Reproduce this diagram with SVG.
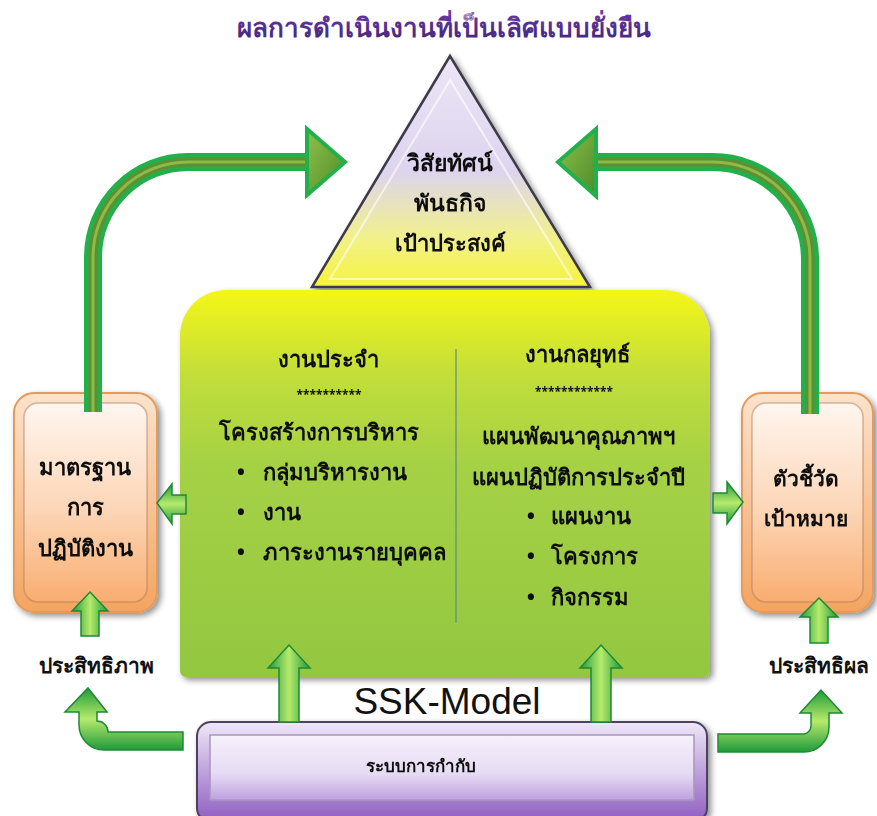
<svg xmlns="http://www.w3.org/2000/svg" width="877" height="816" viewBox="0 0 877 816">
<defs>
<style>
.th{font-family:"Noto Sans","DejaVu Sans","Liberation Sans",sans-serif;fill:#111;text-anchor:middle;font-weight:bold}
.st{text-anchor:start}
.big-shaft-o{fill:none;stroke:#22b04a;stroke-width:18}
.big-shaft-m{fill:none;stroke:#5f8f34;stroke-width:9}
.big-shaft-i{fill:none;stroke:#8dbb45;stroke-width:3}
</style>
<linearGradient id="gTri" x1="0" y1="0" x2="0" y2="1">
<stop offset="0" stop-color="#ece6f6"/><stop offset="0.5" stop-color="#ddd4ee"/><stop offset="0.78" stop-color="#f1f08e"/><stop offset="1" stop-color="#f6f53a"/>
</linearGradient>
<linearGradient id="gGreen" x1="0" y1="0" x2="0" y2="1">
<stop offset="0" stop-color="#f4f618"/><stop offset="0.22" stop-color="#c2de3a"/><stop offset="0.45" stop-color="#a5d145"/><stop offset="1" stop-color="#93c741"/>
</linearGradient>
<linearGradient id="gOrO" x1="0" y1="0" x2="0" y2="1">
<stop offset="0" stop-color="#fbe3cd"/><stop offset="1" stop-color="#f4a460"/>
</linearGradient>
<linearGradient id="gOrI" x1="0" y1="0" x2="0" y2="1">
<stop offset="0" stop-color="#fff6ef"/><stop offset="0.55" stop-color="#fcd5b5"/><stop offset="1" stop-color="#f9ad70"/>
</linearGradient>
<linearGradient id="gPuO" x1="0" y1="0" x2="0" y2="1">
<stop offset="0" stop-color="#efe7f8"/><stop offset="1" stop-color="#8e5cc0"/>
</linearGradient>
<linearGradient id="gPuI" x1="0" y1="0" x2="0" y2="1">
<stop offset="0" stop-color="#f6f0fc"/><stop offset="0.6" stop-color="#e6dbf3"/><stop offset="1" stop-color="#bea0df"/>
</linearGradient>
<linearGradient id="gArrH" x1="0" y1="0" x2="0" y2="1">
<stop offset="0" stop-color="#1f9a3a"/><stop offset="0.5" stop-color="#b6ea6c"/><stop offset="1" stop-color="#1f9a3a"/>
</linearGradient>
<linearGradient id="gArrV" x1="0" y1="0" x2="1" y2="0">
<stop offset="0" stop-color="#1f9a3a"/><stop offset="0.5" stop-color="#b6ea6c"/><stop offset="1" stop-color="#1f9a3a"/>
</linearGradient>
<linearGradient id="gHead" x1="0" y1="0" x2="1" y2="1">
<stop offset="0" stop-color="#8fc24a"/><stop offset="1" stop-color="#4e8a2a"/>
</linearGradient>
<linearGradient id="gTitle" x1="0" y1="0" x2="0" y2="1">
<stop offset="0" stop-color="#6a3aa8"/><stop offset="1" stop-color="#3e2375"/>
</linearGradient>
<filter id="sh" x="-10%" y="-10%" width="130%" height="130%">
<feGaussianBlur in="SourceAlpha" stdDeviation="3"/><feOffset dx="3" dy="3"/>
<feComponentTransfer><feFuncA type="linear" slope="0.45"/></feComponentTransfer>
<feMerge><feMergeNode/><feMergeNode in="SourceGraphic"/></feMerge>
</filter>
</defs>
<rect width="877" height="816" fill="#ffffff"/>

<text id="title" x="444" y="37" font-family="'Noto Sans','DejaVu Sans',sans-serif" font-weight="bold" font-size="26" fill="url(#gTitle)" text-anchor="middle">ผลการดำเนินงานที่เป็นเลิศแบบยั่งยืน</text>

<g id="triangle" filter="url(#sh)">
<polygon points="450,56 312,287 590,287" fill="url(#gTri)" stroke="#3c3a48" stroke-width="2.5"/>
<polygon points="450,80 330,279 572,279" fill="none" stroke="#ffffff" stroke-opacity="0.6" stroke-width="2"/>
<text class="th" x="450" y="171" font-size="23">วิสัยทัศน์</text>
<text class="th" x="450" y="211" font-size="23">พันธกิจ</text>
<text class="th" x="450" y="251" font-size="22">เป้าประสงค์</text>
</g>

<g id="main" filter="url(#sh)">
<path d="M180 677 L180 336 A46 46 0 0 1 226 290 L664 290 A46 46 0 0 1 710 336 L710 671 A6 6 0 0 1 704 677 L186 677 A6 6 0 0 1 180 671 Z" fill="url(#gGreen)"/>
<line x1="456" y1="349" x2="456" y2="623" stroke="#5f8a8a" stroke-width="1.2"/>
<text class="th" x="328" y="367" font-size="22">งานประจำ</text>
<text class="th" x="329" y="399" font-size="12" font-weight="normal">**********</text>
<text class="th" x="319" y="440" font-size="22">โครงสร้างการบริหาร</text>
<text class="th" x="241" y="480" font-size="22">•</text>
<text class="th st" x="263" y="480" font-size="22">กลุ่มบริหารงาน</text>
<text class="th" x="241" y="520" font-size="22">•</text>
<text class="th st" x="263" y="520" font-size="22">งาน</text>
<text class="th" x="241" y="560" font-size="22">•</text>
<text class="th st" x="263" y="560" font-size="22">ภาระงานรายบุคคล</text>

<text class="th" x="577" y="362" font-size="22">งานกลยุทธ์</text>
<text class="th" x="574" y="396" font-size="12" font-weight="normal">************</text>
<text class="th" x="578" y="444" font-size="22">แผนพัฒนาคุณภาพฯ</text>
<text class="th" x="578" y="485" font-size="22">แผนปฏิบัติการประจำปี</text>
<text class="th" x="531" y="524" font-size="22">•</text>
<text class="th st" x="551" y="524" font-size="22">แผนงาน</text>
<text class="th" x="531" y="564" font-size="22">•</text>
<text class="th st" x="551" y="564" font-size="22">โครงการ</text>
<text class="th" x="531" y="605" font-size="22">•</text>
<text class="th st" x="551" y="605" font-size="22">กิจกรรม</text>
</g>

<g id="left-box" filter="url(#sh)">
<rect x="14" y="393" width="143" height="219" rx="20" fill="url(#gOrO)" stroke="#e39a5a" stroke-width="2"/>
<rect x="24" y="403" width="123" height="199" rx="14" fill="url(#gOrI)" stroke="#b07a55" stroke-opacity="0.5" stroke-width="1.5"/>
<text class="th" x="85" y="475" font-size="22">มาตรฐาน</text>
<text class="th" x="85" y="515" font-size="22">การ</text>
<text class="th" x="85" y="556" font-size="22">ปฏิบัติงาน</text>
</g>

<g id="right-box" filter="url(#sh)">
<rect x="742" y="393" width="131" height="219" rx="20" fill="url(#gOrO)" stroke="#e39a5a" stroke-width="2"/>
<rect x="752" y="403" width="111" height="199" rx="14" fill="url(#gOrI)" stroke="#b07a55" stroke-opacity="0.5" stroke-width="1.5"/>
<text class="th" x="806" y="486" font-size="21">ตัวชี้วัด</text>
<text class="th" x="806" y="526" font-size="21">เป้าหมาย</text>
</g>

<g id="bottom-box" filter="url(#sh)">
<rect x="197" y="722" width="510" height="100" rx="14" fill="url(#gPuO)" stroke="#4e4060" stroke-width="2"/>
<rect x="210" y="735" width="484" height="65" fill="url(#gPuI)" stroke="#a896bd" stroke-width="1.5"/>
<text class="th" x="421" y="772" font-size="17">ระบบการกำกับ</text>
</g>

<text id="ssk" x="447" y="714" font-family="'Liberation Sans',Arial,sans-serif" font-size="37" fill="#111" text-anchor="middle">SSK-Model</text>

<text id="lbl-eff" class="th" x="96" y="673" font-size="21">ประสิทธิภาพ</text>
<text id="lbl-res" class="th" x="819" y="673" font-size="21">ประสิทธิผล</text>

<g id="connectors">
<path class="big-shaft-o" d="M93 412 L93 257 A95 95 0 0 1 188 162 L309 162"/>
<path class="big-shaft-m" d="M93 412 L93 257 A95 95 0 0 1 188 162 L309 162"/>
<path class="big-shaft-i" d="M93 412 L93 257 A95 95 0 0 1 188 162 L309 162"/>
<polygon points="307,129 345,162 307,195" fill="url(#gHead)" stroke="#22b04a" stroke-width="4"/>
<path class="big-shaft-o" d="M810 414 L810 259 A97 97 0 0 0 713 162 L593 162"/>
<path class="big-shaft-m" d="M810 414 L810 259 A97 97 0 0 0 713 162 L593 162"/>
<path class="big-shaft-i" d="M810 414 L810 259 A97 97 0 0 0 713 162 L593 162"/>
<polygon points="596,129 558,162 596,196" fill="url(#gHead)" stroke="#22b04a" stroke-width="4"/>
<g stroke="#1d8a35" stroke-width="1.5">
<polygon points="279,722 279,668 268,668 289,645 310,668 299,668 299,722" fill="url(#gArrV)"/>
<polygon points="591,722 591,668 580,668 601,645 622,668 611,668 611,722" fill="url(#gArrV)"/>
<polygon points="81,636 81,611 72,611 90,592 108,611 99,611 99,636" fill="url(#gArrV)"/>
<polygon points="810,643 810,617 800,617 819,598 838,617 828,617 828,643" fill="url(#gArrV)"/>
<polygon points="186,495 172,495 172,484 157,503 172,524 172,514 186,514" fill="url(#gArrH)"/>
<polygon points="713,493 727,493 727,482 743,502 727,524 727,513 713,513" fill="url(#gArrH)"/>
<path d="M183 732 L108 732 A11 11 0 0 0 97 721 L97 712 L107 712 L88 688 L65 712 L79 712 L79 725 A25 25 0 0 0 104 750 L183 750 Z" fill="url(#gArrH)"/>
<path d="M718 734 L804 734 A8 8 0 0 0 811 726 L811 713 L800 713 L821 690 L842 713 L829 713 L829 727 A25 25 0 0 1 804 752 L718 752 Z" fill="url(#gArrH)"/>
</g>
</g>
</svg>
